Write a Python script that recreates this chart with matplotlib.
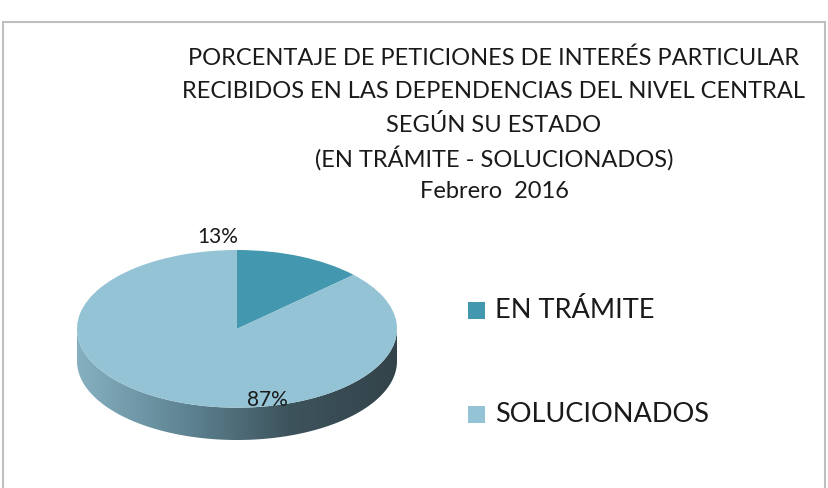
import numpy as np
import matplotlib.pyplot as plt
from matplotlib.patches import Rectangle, Polygon
from matplotlib.colors import LinearSegmentedColormap

# data
categorias = ['EN TRÁMITE', 'SOLUCIONADOS']
valores = [13, 87]
etiquetas = ['13%', '87%']
colores = ['#4397ae', '#93c3d4']
titulo = ['PORCENTAJE DE PETICIONES DE INTERÉS PARTICULAR',
          'RECIBIDOS EN LAS DEPENDENCIAS DEL NIVEL CENTRAL',
          'SEGÚN SU ESTADO',
          '(EN TRÁMITE - SOLUCIONADOS)',
          'Febrero  2016']

plt.rcParams['font.family'] = ['Lato', 'DejaVu Sans']

W, H = 829, 488
fig = plt.figure(figsize=(W / 100, H / 100), dpi=100)

# frame of the chart area
fig.patches.append(Rectangle((3.5 / W, -0.1), 822 / W, 1.1 - 22.5 / H,
                             transform=fig.transFigure, fill=False,
                             edgecolor='#bfbfbf', linewidth=1.5))

# title, one line at a time so the spacing stays even
for i, linea in enumerate(titulo):
    fig.text(494 / W, 1 - (56 + 33.4 * i) / H, linea, ha='center',
             va='center_baseline', fontsize=17, color='#1a1a1a')

# pie axes: circle of radius 1 squashed to an ellipse, plus a side wall
depth = 0.41
ax = fig.add_axes([77 / W, 1 - 440 / H, 320 / W, 190 / H])
ax.set_xlim(-1, 1)
ax.set_ylim(-1 - depth, 1)
ax.axis('off')

# side wall (front half of the cylinder)
t = np.linspace(np.pi, 2 * np.pi, 200)
top_edge = np.column_stack([np.cos(t), np.sin(t)])
bot_edge = np.column_stack([np.cos(t[::-1]), np.sin(t[::-1]) - depth])
wall = Polygon(np.vstack([top_edge, bot_edge]), closed=True,
               facecolor='none', edgecolor='none')
ax.add_patch(wall)
cmap = LinearSegmentedColormap.from_list('lado', ['#86b0c0', '#5f8594', '#3d535c', '#33434a'])
grad = np.linspace(0, 1, 256).reshape(1, -1)
img = ax.imshow(grad, cmap=cmap, extent=[-1, 1, -1 - depth, 0.05],
                aspect='auto', zorder=1)
img.set_clip_path(wall)

wedges, _ = ax.pie(valores, colors=colores, startangle=90, counterclock=False,
                   radius=1, wedgeprops=dict(linewidth=0, zorder=2))
ax.set_aspect('auto')
ax.set_xlim(-1, 1)
ax.set_ylim(-1 - depth, 1)

ax.text(-0.12, 1.17, etiquetas[0], ha='center', va='center', fontsize=15,
        color='#1a1a1a', clip_on=False)
ax.text(0.19, -0.9, etiquetas[1], ha='center', va='center', fontsize=15,
        color='#1a1a1a', zorder=3)

# legend
ys = [311, 415]
for nombre, col, y in zip(categorias, colores, ys):
    fig.patches.append(Rectangle((468 / W, 1 - (y + 8) / H), 17 / W, 17 / H,
                                 transform=fig.transFigure, facecolor=col,
                                 edgecolor='none'))
    fig.text(495 / W, 1 - y / H, nombre, ha='left', va='center',
             fontsize=19.5, color='#1a1a1a')

fig.savefig('out.png', dpi=100)
